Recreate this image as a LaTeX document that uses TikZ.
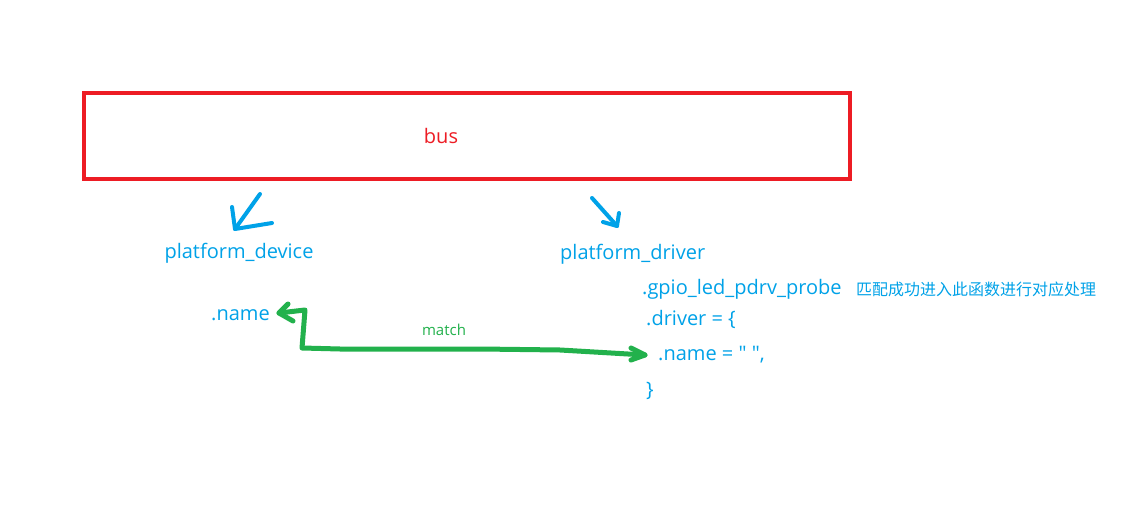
\documentclass[tikz,border=0pt]{standalone}
\usepackage{fontspec}
\setmainfont{Open Sans}
\newfontfamily\cjk{Noto Sans CJK SC}
\usetikzlibrary{arrows.meta}
\definecolor{pblue}{RGB}{0,162,232}
\definecolor{pred}{RGB}{237,28,36}
\definecolor{pgreen}{RGB}{34,177,76}
\tikzset{
  lbl/.style={text=pblue, font=\fontsize{20}{22}\selectfont, inner sep=0pt},
  cn/.style={text=pblue, font=\cjk\fontsize{16}{18}\selectfont, inner sep=0pt},
  busbox/.style={draw=pred, line width=4pt},
  bluearrow/.style={draw=pblue, line width=4pt, line cap=round, line join=round},
  greenarrow/.style={draw=pgreen, line width=5pt, line cap=round, line join=round},
}
\begin{document}
\begin{tikzpicture}[x=1pt,y=-1pt]
\useasboundingbox[fill=white] (0,0) rectangle (1146,524);
\node[busbox, minimum width=766pt, minimum height=86pt, inner sep=0pt] (bus) at (467,136) {};
\node[text=pred, font=\fontsize{20}{22}\selectfont, inner sep=0pt] (bustxt) at (441,136) {bus};
\node[lbl] (pdev) at (239,253) {platform\_device};
\node[lbl, anchor=west] (pdrv) at (560,254) {platform\_driver};
\node[lbl, anchor=west] (probe) at (642,289) {.gpio\_led\_pdrv\_probe};
\node[cn, anchor=west] (note) at (856,289) {匹配成功进入此函数进行对应处理};
\node[lbl, anchor=west] (drv) at (646,319) {.driver = \{};
\node[lbl, anchor=west] (dname) at (658,355) {.name = \textquotedbl\ \textquotedbl,};
\node[lbl, anchor=west] (close) at (646,391) {\}};
\node[lbl, anchor=west] (pname) at (211,315) {.name};
\node[text=pgreen, font=\fontsize{15}{17}\selectfont, inner sep=0pt] (match) at (444,330) {match};
% blue arrows
\coordinate (a1s) at (260,194);
\coordinate (a1e) at (235,229);
\draw[bluearrow] (a1s) -- (a1e);
\draw[bluearrow] (232,207) -- (a1e) -- (272,223);
\coordinate (a2s) at (592,198);
\coordinate (a2e) at (617,226);
\draw[bluearrow] (a2s) -- (a2e);
\draw[bluearrow] (619,213) -- (a2e) -- (603,222);
% green match arrow
\coordinate (gL) at (279,313);
\coordinate (gR) at (645,355);
\draw[greenarrow] (gL) -- (305,310) -- (302,348) -- (340,349) -- (480,349) -- (560,350) -- (gR);
\draw[greenarrow] (288,304) -- (gL) -- (293,321);
\draw[greenarrow] (631,348) -- (gR) -- (631,360);
\end{tikzpicture}
\end{document}
